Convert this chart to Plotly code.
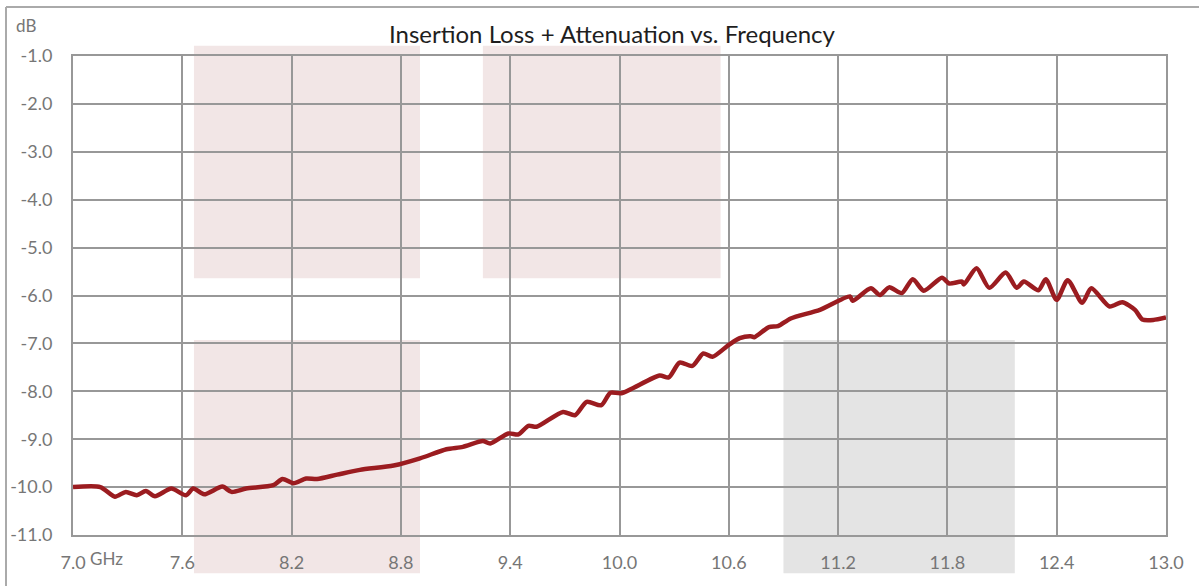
import plotly.graph_objects as go

freq_ghz = [7.00, 7.15, 7.23, 7.29, 7.35, 7.40, 7.45, 7.54, 7.62, 7.66, 7.72, 7.82, 7.87, 7.95,
            8.10, 8.15, 8.21, 8.28, 8.34, 8.45, 8.575, 8.76, 8.905, 9.05, 9.14, 9.25, 9.29, 9.39,
            9.445, 9.50, 9.545, 9.69, 9.755, 9.82, 9.90, 9.95, 10.01, 10.22, 10.27, 10.33, 10.40,
            10.46, 10.51, 10.60, 10.66, 10.72, 10.74, 10.82, 10.87, 10.94, 11.10, 11.265, 11.28,
            11.38, 11.43, 11.48, 11.55, 11.61, 11.67, 11.77, 11.81, 11.88, 11.89, 11.96, 12.03,
            12.12, 12.18, 12.22, 12.30, 12.34, 12.40, 12.46, 12.54, 12.59, 12.69, 12.76, 12.83,
            12.87, 12.93, 13.00]
loss_db = [-10.00, -10.00, -10.20, -10.10, -10.17, -10.08, -10.19, -10.03, -10.17, -10.03, -10.15,
           -9.99, -10.10, -10.03, -9.96, -9.83, -9.92, -9.82, -9.83, -9.74, -9.64, -9.55, -9.40,
           -9.21, -9.16, -9.04, -9.09, -8.88, -8.90, -8.72, -8.74, -8.43, -8.50, -8.22, -8.29,
           -8.03, -8.04, -7.67, -7.71, -7.40, -7.47, -7.21, -7.28, -7.03, -6.89, -6.85, -6.87,
           -6.66, -6.64, -6.48, -6.30, -6.02, -6.11, -5.85, -5.99, -5.83, -5.95, -5.66, -5.90,
           -5.63, -5.75, -5.71, -5.77, -5.43, -5.84, -5.52, -5.84, -5.71, -5.89, -5.66, -6.09,
           -5.68, -6.15, -5.85, -6.23, -6.14, -6.30, -6.50, -6.51, -6.46]

x_ticks = [7.0, 7.6, 8.2, 8.8, 9.4, 10.0, 10.6, 11.2, 11.8, 12.4, 13.0]
y_ticks = [-1.0, -2.0, -3.0, -4.0, -5.0, -6.0, -7.0, -8.0, -9.0, -10.0, -11.0]

# shaded bands (GHz spans)
band_pink_upper = [(7.664, 8.905), (9.25, 10.555)]
band_pink_lower = [(7.664, 8.905)]
band_grey_lower = [(10.90, 12.17)]

PINK = "rgb(242,230,230)"
GREY = "rgb(228,228,228)"
GRID = "rgb(152,152,152)"
LABEL = "rgb(118,118,118)"
FONT = "Lato"

fig = go.Figure()
fig.add_trace(go.Scatter(
    x=freq_ghz, y=loss_db, mode="lines",
    line=dict(color="#9B1C20", width=4.5, shape="spline", smoothing=0.7),
    showlegend=False, hoverinfo="x+y"))

shapes = []
for x0, x1 in band_pink_upper:
    shapes.append(dict(type="rect", xref="x", yref="paper", x0=x0, x1=x1, y0=0.536, y1=1.0215,
                       fillcolor=PINK, line=dict(width=0), layer="below"))
for x0, x1 in band_pink_lower:
    shapes.append(dict(type="rect", xref="x", yref="paper", x0=x0, x1=x1, y0=-0.08, y1=0.407,
                       fillcolor=PINK, line=dict(width=0), layer="below"))
for x0, x1 in band_grey_lower:
    shapes.append(dict(type="rect", xref="x", yref="paper", x0=x0, x1=x1, y0=-0.08, y1=0.407,
                       fillcolor=GREY, line=dict(width=0), layer="below"))
# outer chart frame (left and top edges)
shapes.append(dict(type="line", xref="paper", yref="paper", x0=-0.0613, x1=-0.0613, y0=-0.3, y1=1.1023,
                   line=dict(color="rgb(170,170,170)", width=2), layer="below"))
shapes.append(dict(type="line", xref="paper", yref="paper", x0=-0.0613, x1=1.2, y0=1.1023, y1=1.1023,
                   line=dict(color="rgb(170,170,170)", width=2), layer="below"))

fig.update_layout(
    width=1199, height=586,
    margin=dict(l=73, r=33, t=56, b=51, autoexpand=False),
    paper_bgcolor="white", plot_bgcolor="rgba(0,0,0,0)",
    font=dict(family=FONT, size=18, color=LABEL),
    shapes=shapes,
    annotations=[
        dict(text="Insertion Loss + Attenuation vs. Frequency", xref="paper", yref="paper",
             x=0.493, y=1.048, showarrow=False, xanchor="center", yanchor="middle",
             font=dict(family=FONT, size=24, color="rgb(30,30,30)")),
        dict(text="dB", xref="paper", yref="paper", x=-0.043, y=1.0647, showarrow=False,
             xanchor="center", yanchor="middle", font=dict(family=FONT, size=17, color=LABEL)),
        dict(text="GHz", xref="paper", yref="paper", x=0.0302, y=-0.050, showarrow=False,
             xanchor="center", yanchor="middle", font=dict(family=FONT, size=17, color=LABEL)),
    ],
)
fig.update_xaxes(range=[7.0, 13.0], tickvals=x_ticks, ticktext=[f"{v:.1f}" for v in x_ticks],
                 showgrid=True, gridcolor=GRID, gridwidth=2, zeroline=False,
                 showline=True, mirror=True, linecolor=GRID, linewidth=2,
                 ticks="", ticklabelstandoff=10, automargin=False)
fig.update_yaxes(range=[-11.0, -1.0], tickvals=y_ticks, ticktext=[f"{v:.1f}" for v in y_ticks],
                 showgrid=True, gridcolor=GRID, gridwidth=2, zeroline=False,
                 showline=True, mirror=True, linecolor=GRID, linewidth=2,
                 ticks="", ticklabelstandoff=15, automargin=False)

fig.write_html("out.html", config={"displayModeBar": False},
               post_script="document.body.style.margin='0';document.body.style.overflow='hidden';")
